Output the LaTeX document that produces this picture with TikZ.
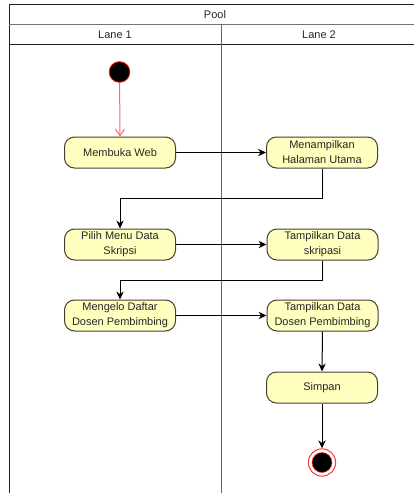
\documentclass[tikz,border=0pt]{standalone}
\usepackage{fontspec}
\setmainfont{Liberation Sans}
\usetikzlibrary{arrows.meta}
\definecolor{actfill}{HTML}{FFFFC0}
\definecolor{actline}{HTML}{4A3C30}
\definecolor{poolline}{HTML}{2A1A1A}
\definecolor{flowred}{HTML}{FF6666}
\begin{document}
\begin{tikzpicture}[x=0.75pt,y=-0.75pt,
  txt/.style={font=\fontsize{8.25}{11.25}\selectfont, text=black!85},
  activity/.style={txt, draw=actline, fill=actfill, rounded corners=7.5pt,
    minimum width=83.25pt, minimum height=23.25pt, inner sep=0pt,
    align=center, line width=0.75pt},
  startstate/.style={circle, fill=black, draw=red, line width=0.6pt,
    minimum size=15.5pt, inner sep=0pt},
  endouter/.style={circle, fill=white, draw=red!80, line width=0.75pt,
    minimum size=20.5pt, inner sep=0pt},
  endinner/.style={circle, fill=black, draw=red!80, line width=0.4pt,
    minimum size=15pt, inner sep=0pt},
  flow/.style={draw=black, line width=0.75pt, -{Stealth[length=6pt,width=5.5pt]}},
  redflow/.style={draw=flowred, line width=0.75pt, -{Straight Barb[length=5pt,width=7pt]}},
  lane/.style={draw=poolline, line width=0.75pt}]
\useasboundingbox (0,0) rectangle (414,493);
\clip (0,0) rectangle (414,493);

% pool frame, header rows and lane divider
\draw[lane] (9,510) -- (9,4) -- (418,4) -- (418,510);
\draw[lane, draw=black!55] (9,24) -- (418,24);
\draw[lane] (9,44) -- (418,44);
\draw[lane, draw=black!60] (221,24) -- (221,510);
\node[txt] (pool) at (215,14.5) {Pool};
\node[txt] (lane1) at (115,34.5) {Lane 1};
\node[txt] (lane2) at (319,34.5) {Lane 2};

% activities
\node[startstate] (start) at (119.5,72) {};
\node[activity] (web) at (120,152.5) {Membuka Web};
\node[activity] (utama) at (322,152.5) {Menampilkan\\Halaman Utama};
\node[activity] (pilih) at (120,244.5) {Pilih Menu Data\\Skripsi};
\node[activity] (skripsi) at (322.5,244.5) {Tampilkan Data\\skripasi};
\node[activity] (mengelo) at (120,315.5) {Mengelo Daftar\\Dosen Pembimbing};
\node[activity] (dosen) at (322.5,315.5) {Tampilkan Data\\Dosen Pembimbing};
\node[activity] (simpan) at (322,387.5) {Simpan};
\node[endouter] (fin) at (322,462.5) {};
\node[endinner] (fincore) at (fin) {};

% routing heights for the two returns to lane 1
\coordinate (bendA) at (0,198);
\coordinate (bendB) at (0,280);

% control flow
\draw[redflow] (start) -- (web.north);
\draw[flow] (web.east) -- (utama.west);
\draw[flow] (utama.south) -- (utama.south |- bendA) -| (pilih.north);
\draw[flow] (pilih.east) -- (skripsi.west);
\draw[flow] (skripsi.south) -- (skripsi.south |- bendB) -| (mengelo.north);
\draw[flow] (mengelo.east) -- (dosen.west);
\draw[flow] (dosen.south) -- (simpan.north);
\draw[flow] (simpan.south) -- (fin.north);
\end{tikzpicture}
\end{document}
